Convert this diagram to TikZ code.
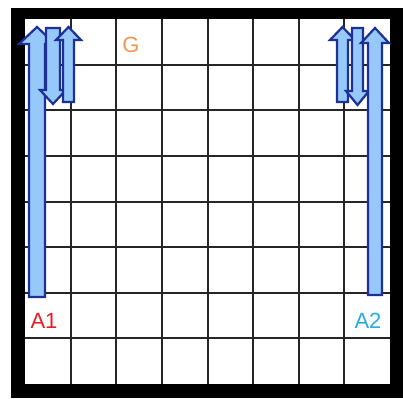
\documentclass[tikz,border=0pt]{standalone}
\usepackage{fontspec}
\setmainfont{Liberation Sans}
\definecolor{arrfill}{RGB}{150,200,250}
\definecolor{arrline}{RGB}{28,48,150}
\definecolor{lblred}{RGB}{230,30,40}
\definecolor{lblcyan}{RGB}{40,170,230}
\definecolor{lblorange}{RGB}{240,150,80}
\begin{document}
\begin{tikzpicture}[x=1pt,y=-1pt,
  blockarrow/.style={fill=arrfill,draw=arrline,line width=2.2pt,line join=miter},
  gridline/.style={draw=black!85,line width=2pt},
  lbl/.style={font=\fontsize{22}{22}\selectfont,inner sep=0pt}]
\useasboundingbox (0,0) rectangle (403,398);
% frame
\fill[black] (11,8) rectangle (403,398);
\fill[white] (25,19) rectangle (390,384);
% grid
\foreach \i in {1,...,7}{
  \draw[gridline] ({25+\i*365/8},19) -- ({25+\i*365/8},384);
  \draw[gridline] (25,{19+\i*365/8}) -- (390,{19+\i*365/8});
}
% left arrows
\draw[blockarrow] (29,297) -- (29,44) -- (19,44) -- (37,27) -- (55,44) -- (45,44) -- (45,297) -- cycle;
\draw[blockarrow] (46,28) -- (46,90) -- (40,90) -- (53,104) -- (66,90) -- (60,90) -- (60,28) -- cycle;
\draw[blockarrow] (63,102) -- (63,40) -- (56,40) -- (68.5,27) -- (81,40) -- (74,40) -- (74,102) -- cycle;
% right arrows
\draw[blockarrow] (337,102) -- (337,40) -- (330,40) -- (342.5,27) -- (355,40) -- (348,40) -- (348,102) -- cycle;
\draw[blockarrow] (352,28) -- (352,91) -- (346,91) -- (357.5,105) -- (369,91) -- (363,91) -- (363,28) -- cycle;
\draw[blockarrow] (368,295) -- (368,43) -- (361,43) -- (375,28) -- (389,43) -- (382,43) -- (382,295) -- cycle;
% labels
\node[lbl,text=lblred] (a1) at (44,321) {A1};
\node[lbl,text=lblcyan] (a2) at (368,321) {A2};
\node[lbl,text=lblorange] (g) at (131,45) {G};
\end{tikzpicture}
\end{document}
